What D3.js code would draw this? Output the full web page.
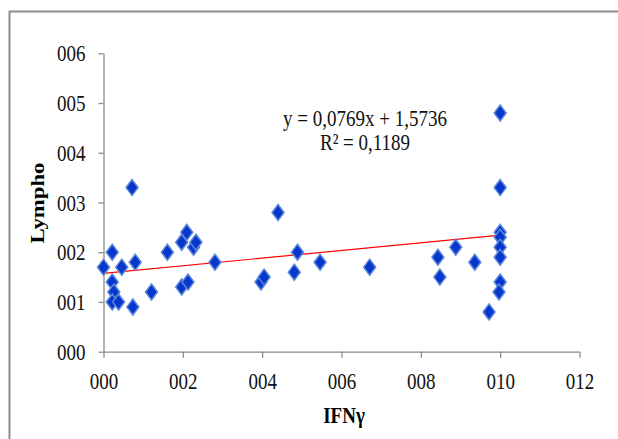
<!DOCTYPE html>
<html>
<head>
<meta charset="utf-8">
<script src="https://cdn.jsdelivr.net/npm/d3@7"></script>
<style>
  body { margin: 0; background: #fff; }
  svg { display: block; }
</style>
</head>
<body>
<svg width="618" height="439"></svg>
<script>
// IFNγ vs Lympho values
var ifn    = [0, 0.22, 0.22, 0.26, 0.22, 0.38, 0.46, 0.72, 0.8, 0.74, 1.21, 1.61, 1.97, 2.1, 2.27, 2.33, 1.97, 2.13, 2.81,
              3.97, 4.05, 4.4, 4.89, 4.81, 5.46, 6.71, 8.43, 8.48, 8.88, 9.36, 9.72, 10, 10, 10, 10, 10, 10, 10, 9.97];
var lympho = [1.7, 2.0, 1.4, 1.2, 1.0, 1.0, 1.7, 3.3, 1.8, 0.9, 1.2, 2.0, 2.2, 2.4, 2.1, 2.2, 1.3, 1.4, 1.8,
              1.4, 1.5, 2.8, 2.0, 1.6, 1.8, 1.7, 1.9, 1.5, 2.1, 1.8, 0.8, 4.8, 3.3, 2.4, 2.3, 2.1, 1.9, 1.4, 1.2];

var xTicks = [0, 2, 4, 6, 8, 10, 12];
var xTickLabels = ["000", "002", "004", "006", "008", "010", "012"];
var yTicks = [0, 1, 2, 3, 4, 5, 6];
var yTickLabels = ["000", "001", "002", "003", "004", "005", "006"];

// trendline from the chart
var slope = 0.0769, intercept = 1.5736;
var eqText = "y = 0,0769x + 1,5736";
var r2Text = "R² = 0,1189";

var data = ifn.map(function(d, i) { return { x: d, y: lympho[i] }; });

var svg = d3.select("svg");
var stretch = 1.2; // text in the picture is a bit taller than normal
var font = "'Liberation Serif', 'Times New Roman', serif";

// outer frame (runs off the right and bottom)
svg.append("rect")
  .attr("x", 9.5).attr("y", 11.5)
  .attr("width", 700).attr("height", 600)
  .attr("fill", "none")
  .attr("stroke", "#8c8c8c")
  .attr("stroke-width", 2);

var x = d3.scaleLinear().domain([0, 12]).range([103.5, 579.5]);
var y = d3.scaleLinear().domain([0, 6]).range([351.7, 53.3]);

var xAxis = svg.append("g")
  .attr("transform", "translate(0," + y(0) + ")")
  .call(d3.axisBottom(x).tickValues(xTicks).tickSize(6).tickSizeOuter(0)
    .tickFormat(function(d, i) { return xTickLabels[i]; }));

var yAxis = svg.append("g")
  .attr("transform", "translate(" + x(0) + ",0)")
  .call(d3.axisLeft(y).tickValues(yTicks).tickSize(5).tickSizeOuter(0)
    .tickFormat(function(d, i) { return yTickLabels[i]; }));

[xAxis, yAxis].forEach(function(a) {
  a.select(".domain").attr("stroke", "#8c8c8c").attr("stroke-width", 1.3);
  a.selectAll(".tick line").attr("stroke", "#8c8c8c").attr("stroke-width", 1.3);
  a.selectAll("text")
    .attr("font-family", font)
    .attr("font-size", 19)
    .attr("fill", "#111");
});
xAxis.selectAll("text").attr("y", 0).attr("dy", 0)
  .attr("transform", "translate(0,37.5) scale(1," + stretch + ")");
yAxis.selectAll("text").attr("x", 0).attr("dy", 0)
  .attr("transform", "translate(-18,7.5) scale(1," + stretch + ")");

// axis titles
svg.append("text")
  .attr("transform", "translate(344,423) scale(1," + stretch + ")")
  .attr("text-anchor", "middle")
  .attr("font-family", font)
  .attr("font-weight", "bold")
  .attr("font-size", 19)
  .text("IFNγ");

svg.append("text")
  .attr("transform", "translate(44,203) rotate(-90) scale(" + stretch + ",1)")
  .attr("text-anchor", "middle")
  .attr("font-family", font)
  .attr("font-weight", "bold")
  .attr("font-size", 19)
  .text("Lympho");

// trendline
var line = d3.line()
  .x(function(d) { return x(d); })
  .y(function(d) { return y(slope * d + intercept); });

svg.append("path")
  .datum([0, d3.max(ifn)])
  .attr("fill", "none")
  .attr("stroke", "#ff0000")
  .attr("stroke-width", 1.2)
  .attr("d", line);

// points
svg.append("g").selectAll("path")
  .data(data)
  .enter().append("path")
  .attr("transform", function(d) { return "translate(" + x(d.x) + "," + y(d.y) + ")"; })
  .attr("d", "M0,-8L6,0L0,8L-6,0Z")
  .attr("fill", "#0636cc")
  .attr("stroke", "#5c88dc")
  .attr("stroke-width", 1.5)
  .attr("stroke-linejoin", "miter");

// equation
svg.append("text")
  .attr("transform", "translate(365,125.5) scale(1," + stretch + ")")
  .attr("text-anchor", "middle")
  .attr("font-family", font)
  .attr("font-size", 19)
  .attr("fill", "#111")
  .text(eqText);

svg.append("text")
  .attr("transform", "translate(365,150) scale(1," + stretch + ")")
  .attr("text-anchor", "middle")
  .attr("font-family", font)
  .attr("font-size", 19)
  .attr("fill", "#111")
  .text(r2Text);
</script>
</body>
</html>
